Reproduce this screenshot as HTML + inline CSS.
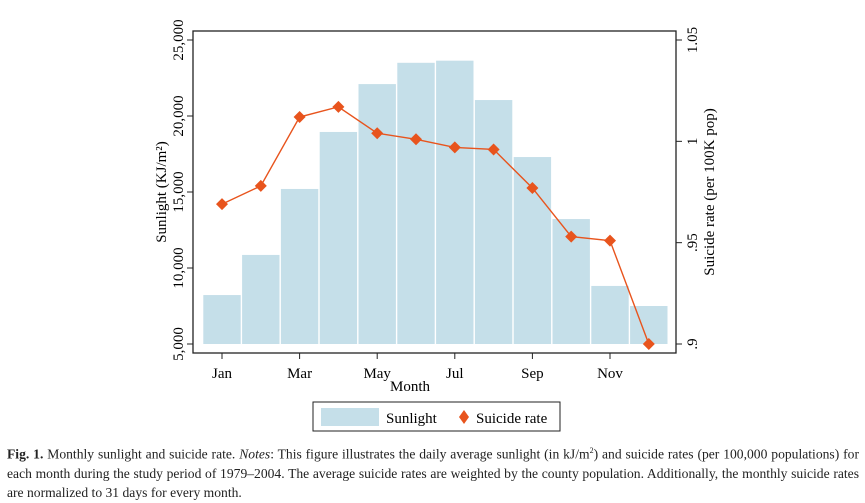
<!DOCTYPE html>
<html><head><meta charset="utf-8"><style>
body{margin:0;background:#fff;width:865px;height:503px;overflow:hidden;font-family:"Liberation Serif",serif;}
svg text{font-family:"Liberation Serif",serif;}
.cap{position:absolute;left:7px;top:441px;width:852px;font-size:13.6px;line-height:19px;color:#222;text-align:justify;}
</style></head><body>
<svg id="chart" width="865" height="440" style="position:absolute;left:0;top:0">
<g id="bars"></g>
<g id="line"></g>
<rect x="193" y="31" width="483" height="322" fill="none" stroke="#222" stroke-width="1.3"/>
<g id="axes"></g>
<text x="410" y="391" font-size="15" text-anchor="middle">Month</text>
<text transform="translate(166,192) rotate(-90)" font-size="15" text-anchor="middle">Sunlight (KJ/m²)</text>
<text transform="translate(714,192) rotate(-90)" font-size="15" text-anchor="middle">Suicide rate (per 100K pop)</text>
<g>
<rect x="313" y="402" width="247" height="29" fill="#fff" stroke="#222" stroke-width="1"/>
<rect x="321" y="408" width="58" height="18" fill="#c5dfe9"/>
<text x="386" y="423" font-size="15">Sunlight</text>
<path d="M464,410 l5,7 l-5,7 l-5,-7z" fill="#e8541d"/>
<text x="476" y="423" font-size="15">Suicide rate</text>
</g>
</svg>
<div class="cap"><b>Fig. 1.</b> Monthly sunlight and suicide rate. <i>Notes</i>: This figure illustrates the daily average sunlight (in kJ/m<sup style="font-size:8px">2</sup>) and suicide rates (per 100,000 populations) for each month during the study period of 1979–2004. The average suicide rates are weighted by the county population. Additionally, the monthly suicide rates are normalized to 31 days for every month.</div>
<script>
const months=["Jan","Feb","Mar","Apr","May","Jun","Jul","Aug","Sep","Oct","Nov","Dec"];
const sunlight=[8220,10860,15200,18950,22100,23500,23640,21050,17300,13220,8820,7500];
const suicide=[0.969,0.978,1.012,1.017,1.004,1.001,0.997,0.996,0.977,0.953,0.951,0.900];
const leftTicks=[5000,10000,15000,20000,25000];
const leftTickLabels=["5,000","10,000","15,000","20,000","25,000"];
const rightTicks=[0.9,0.95,1,1.05];
const rightTickLabels=[".9",".95","1","1.05"];
const xTickIdx=[0,2,4,6,8,10];
const NS="http://www.w3.org/2000/svg";
const x=i=>222+i*38.8;
const yL=v=>344-(v-5000)/20000*304;
const yR=v=>344-(v-0.9)/0.15*304;
function mk(t,a,p){const e=document.createElementNS(NS,t);for(const k in a)e.setAttribute(k,a[k]);p.appendChild(e);return e;}
const bars=document.getElementById('bars'),line=document.getElementById('line'),axes=document.getElementById('axes');
sunlight.forEach((v,i)=>{const r=mk('rect',{x:x(i)-18.7,y:yL(v),width:37.4,height:yL(5000)-yL(v),fill:'#c5dfe9'},bars);

});
mk('polyline',{points:suicide.map((v,i)=>x(i)+','+yR(v)).join(' '),fill:'none',stroke:'#e8541d','stroke-width':1.4},line);
suicide.forEach((v,i)=>{const p=mk('path',{d:`M${x(i)},${yR(v)-6} l6,6 l-6,6 l-6,-6z`,fill:'#e8541d'},line);

});
leftTicks.forEach((v,i)=>{mk('line',{x1:187,x2:193,y1:yL(v),y2:yL(v),stroke:'#222'},axes);
const t=mk('text',{transform:`translate(183,${yL(v)}) rotate(-90)`,'font-size':15,'text-anchor':'middle'},axes);t.textContent=leftTickLabels[i];

});
rightTicks.forEach((v,i)=>{mk('line',{x1:676,x2:682,y1:yR(v),y2:yR(v),stroke:'#222'},axes);
const t=mk('text',{transform:`translate(697,${yR(v)}) rotate(-90)`,'font-size':15,'text-anchor':'middle'},axes);t.textContent=rightTickLabels[i];

});
xTickIdx.forEach(i=>{mk('line',{x1:x(i),x2:x(i),y1:353,y2:359,stroke:'#222'},axes);
const t=mk('text',{x:x(i),y:378,'font-size':15,'text-anchor':'middle'},axes);t.textContent=months[i];

});
</script>
</body></html>
